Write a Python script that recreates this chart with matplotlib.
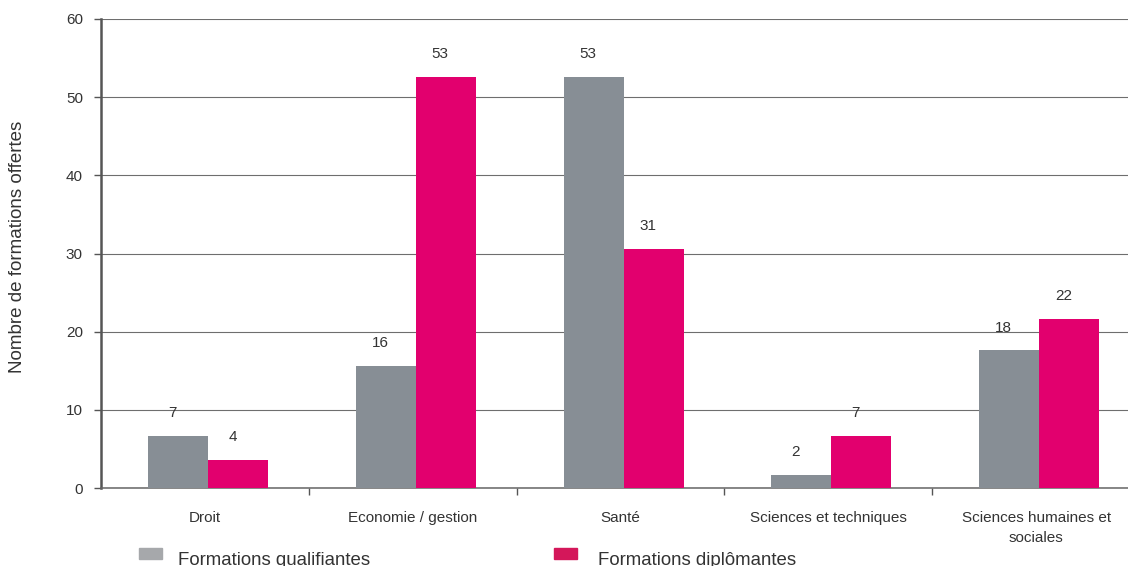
import numpy as np
import matplotlib.pyplot as plt
from matplotlib.patches import Rectangle

plt.rcParams['font.family'] = ['Liberation Sans', 'DejaVu Sans']

categories = ["Droit", "Economie / gestion", "Santé", "Sciences et techniques",
              "Sciences humaines et\nsociales"]
qualifiantes = [6.6, 15.6, 52.6, 1.65, 17.6]
diplomantes = [3.6, 52.6, 30.6, 6.6, 21.6]
series_names = ["Formations qualifiantes", "Formations diplômantes"]

grey = "#878e95"
pink = "#e2006e"
txt = "#333333"

fig = plt.figure(figsize=(11.28, 5.66), dpi=100)
ax = fig.add_axes([101 / 1128, 1 - 488 / 566, 1039 / 1128, 469 / 566])

x = np.arange(len(categories))
w = 0.289
off = 0.015
b1 = ax.bar(x + off - w, qualifiantes, w, align="edge", color=grey, zorder=3)
b2 = ax.bar(x + off, diplomantes, w, align="edge", color=pink, zorder=3)

for bars, vals in ((b1, qualifiantes), (b2, diplomantes)):
    for r, v in zip(bars, vals):
        ax.annotate(str(int(round(v))), (r.get_x() + r.get_width() / 2, v),
                    xytext=(-4, 16.5), textcoords="offset points", ha="center",
                    va="center", fontsize=11, color=txt)

ax.set_xlim(-0.5, len(categories) - 0.5)
ax.set_ylim(0, 60)
ax.set_yticks(range(0, 61, 10))
ax.yaxis.grid(True, color="#6e6e6e", linewidth=0.8, zorder=0)
ax.set_axisbelow(True)

ax.set_xticks(x[:-1] + 0.5)
ax.set_xticklabels([])
ax.tick_params(axis="x", length=5, width=1, color="#555555", direction="out")
ax.tick_params(axis="y", length=5, width=1, color="#555555", labelsize=11,
               labelcolor=txt, pad=8)

for i, c in enumerate(categories):
    ax.text(i, -2.9, c, ha="center", va="top", fontsize=11, color=txt,
            linespacing=1.55)

for s in ("top", "right"):
    ax.spines[s].set_visible(False)
ax.spines["left"].set_color("#555555")
ax.spines["left"].set_linewidth(1.8)
ax.spines["bottom"].set_color("#666666")
ax.spines["bottom"].set_linewidth(1.1)

fig.text(18 / 1128, 1 - 247 / 566, "Nombre de formations offertes", rotation=90,
         ha="center", va="center", fontsize=13.5, color=txt)

# legend
leg_cols = ["#a6a8ab", "#d4175a"]
leg_x = [139, 554]
leg_tx = [178, 598]
for lx, tx, col, name in zip(leg_x, leg_tx, leg_cols, series_names):
    fig.patches.append(Rectangle((lx / 1128, 1 - 559 / 566), 23 / 1128, 11 / 566,
                                 transform=fig.transFigure, color=col))
    fig.text(tx / 1128, 1 - 565 / 566, name, fontsize=13.4, color=txt,
             va="baseline")

fig.savefig("out.png", dpi=100)
